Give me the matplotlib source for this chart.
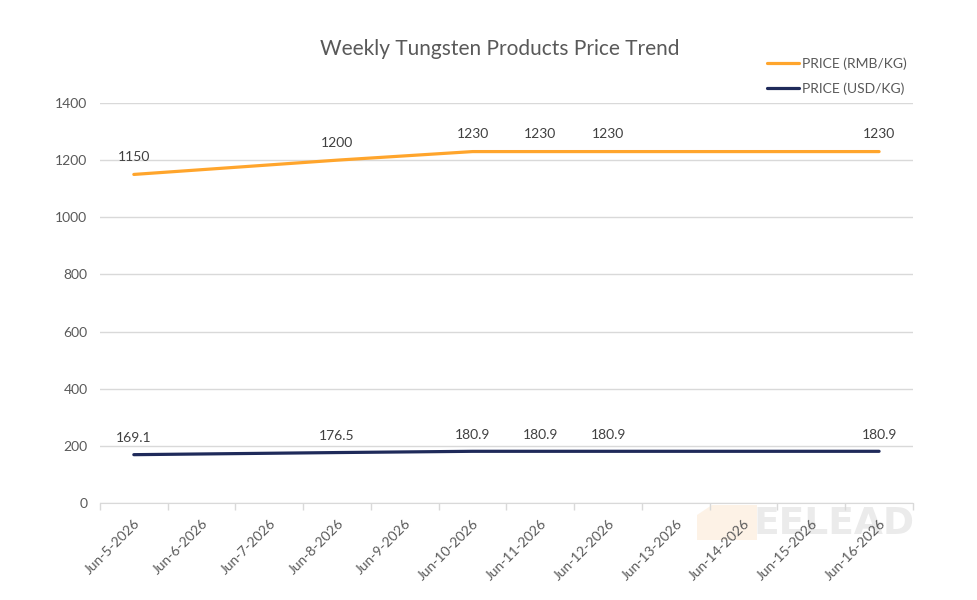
import matplotlib
matplotlib.use('Agg')
import matplotlib.pyplot as plt
from matplotlib.ticker import MultipleLocator, FixedLocator
from matplotlib.patches import Polygon

plt.rcParams['font.family'] = ['Lato', 'DejaVu Sans']

# 日期类别（按天）
dates = ['Jun-5-2026', 'Jun-6-2026', 'Jun-7-2026', 'Jun-8-2026', 'Jun-9-2026', 'Jun-10-2026',
         'Jun-11-2026', 'Jun-12-2026', 'Jun-13-2026', 'Jun-14-2026', 'Jun-15-2026', 'Jun-16-2026']
# 有数据的日期
point_dates = ['Jun-5-2026', 'Jun-8-2026', 'Jun-10-2026', 'Jun-11-2026', 'Jun-12-2026', 'Jun-16-2026']
rmb = [1150, 1200, 1230, 1230, 1230, 1230]
usd = [169.1, 176.5, 180.9, 180.9, 180.9, 180.9]

xs = [dates.index(d) for d in point_dates]

fig = plt.figure(figsize=(9.78, 6), dpi=100)

# 水印
W, H = 978, 600
wm = Polygon([(697 / W, 1 - 540 / H), (697 / W, 1 - 515 / H), (712 / W, 1 - 505 / H),
              (757 / W, 1 - 505 / H), (757 / W, 1 - 540 / H)],
             closed=True, transform=fig.transFigure, facecolor='#FDF2E6', edgecolor='none', zorder=-2)
fig.patches.append(wm)
fig.text(834 / W, 1 - 524 / H, 'EELEAD', ha='center', va='center', fontsize=27,
         fontweight='bold', family='DejaVu Sans', color='#EBEBEB', zorder=-1)

ax = fig.add_axes([0.1022, 0.1617, 0.8313, 0.6666])
ax.patch.set_alpha(0)

ax.plot(xs, rmb, color='#FFA52C', lw=2.3, label='PRICE (RMB/KG)', solid_capstyle='round')
ax.plot(xs, usd, color='#1F2A5A', lw=2.3, label='PRICE (USD/KG)', solid_capstyle='round')

for x, v in zip(xs, rmb):
    ax.annotate(f'{v:g}', (x, v), xytext=(0, 8), textcoords='offset points',
                ha='center', va='bottom', fontsize=10, color='#404040')
for x, v in zip(xs, usd):
    ax.annotate(f'{v:g}', (x, v), xytext=(0, 7.5), textcoords='offset points',
                ha='center', va='bottom', fontsize=10, color='#404040')

ax.set_xlim(-0.5, len(dates) - 0.5)
ax.set_ylim(0, 1400)
ax.yaxis.set_major_locator(MultipleLocator(200))
ax.set_xticks(range(len(dates)))
ax.set_xticklabels(dates, rotation=45, ha='right', rotation_mode='anchor')
ax.xaxis.set_minor_locator(FixedLocator([i - 0.5 for i in range(len(dates) + 1)]))
ax.tick_params(axis='x', which='major', length=0, pad=10, labelsize=10, labelcolor='#595959')
ax.tick_params(axis='x', which='minor', length=5, color='#D9D9D9', width=1)
ax.tick_params(axis='y', length=0, pad=9, labelsize=10, labelcolor='#595959')
ax.grid(axis='y', color='#D9D9D9', lw=1)
ax.set_axisbelow(True)
for s in ['top', 'right', 'left']:
    ax.spines[s].set_visible(False)
ax.spines['bottom'].set_color('#D9D9D9')

fig.text(0.511, 0.919, 'Weekly Tungsten Products Price Trend', ha='center', va='center',
         fontsize=15, color='#595959')

leg = fig.legend(loc='upper right', bbox_to_anchor=(0.94, 0.925), frameon=False,
                 fontsize=10, handlelength=2.3, handletextpad=0.2, labelspacing=0.9)
for t in leg.get_texts():
    t.set_color('#595959')

fig.savefig('out.png', dpi=100)
